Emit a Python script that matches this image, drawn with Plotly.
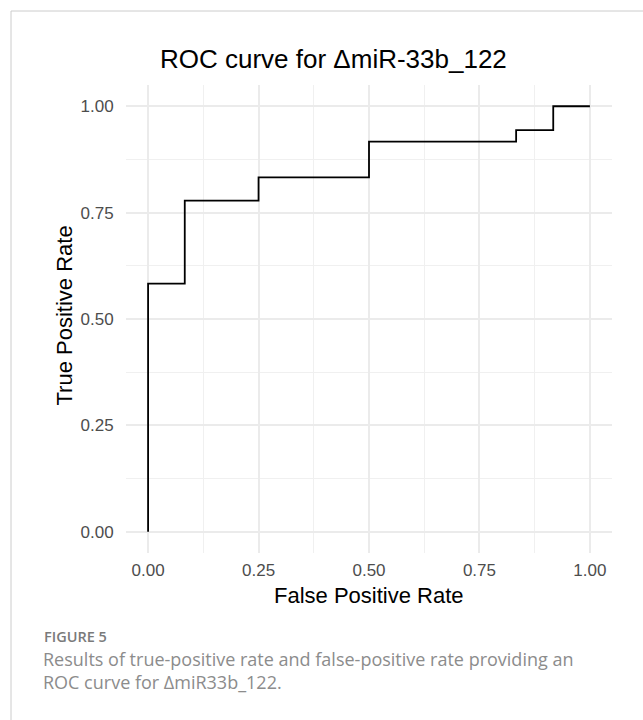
import plotly.graph_objects as go

# ROC step curve data
fpr = [0.0, 0.0, 0.083, 0.25, 0.5, 0.833, 0.917, 1.0]
tpr = [0.0, 0.583, 0.778, 0.833, 0.917, 0.944, 1.0, 1.0]

tick_vals = [0.0, 0.25, 0.5, 0.75, 1.0]
tick_text = ["0.00", "0.25", "0.50", "0.75", "1.00"]

title_text = "ROC curve for \u0394miR-33b_122"
x_title = "False Positive Rate"
y_title = "True Positive Rate"
fig_label = "FIGURE 5"
caption_lines = [
    "Results of true-positive rate and false-positive rate providing an",
    "ROC curve for \u0394miR33b_122.",
]

W, H = 643, 720
L, R, T, B = 126, 612, 85, 553  # panel pixel box


def px(x):
    return (x - L) / (R - L)


def py(y):
    return (B - y) / (B - T)


fig = go.Figure()
fig.add_trace(go.Scatter(
    x=fpr, y=tpr, mode="lines", line=dict(color="black", width=1.8, shape="hv"),
    hoverinfo="skip", showlegend=False,
))

axis_common = dict(
    range=[-0.05, 1.05],
    tickvals=tick_vals,
    ticktext=tick_text,
    showgrid=True,
    gridcolor="#ebebeb",
    gridwidth=1.6,
    zeroline=False,
    showline=False,
    ticks="outside",
    tickcolor="rgba(0,0,0,0)",
    tickfont=dict(family="Liberation Sans, Arial, sans-serif", size=17, color="#4d4d4d"),
    minor=dict(showgrid=True, gridcolor="#f0f0f0", gridwidth=1.0, dtick=0.25, tick0=0.125),
    fixedrange=True,
)

fig.update_layout(
    width=W, height=H,
    margin=dict(l=L, r=W - R, t=T, b=H - B, pad=0),
    paper_bgcolor="white",
    plot_bgcolor="white",
    xaxis=dict(axis_common, ticklen=2),
    yaxis=dict(axis_common, ticklen=8),
    showlegend=False,
)

fig.add_shape(type="rect", xref="paper", yref="paper",
              x0=px(11), x1=px(700), y0=py(800), y1=py(11),
              line=dict(color="#cccccc", width=1), fillcolor="rgba(0,0,0,0)", layer="below")

ann = []
ann.append(dict(text=title_text, x=px(333), y=py(59), xref="paper", yref="paper",
                xanchor="center", yanchor="middle", showarrow=False,
                font=dict(family="Liberation Sans, Arial, sans-serif", size=26, color="black")))
ann.append(dict(text=x_title, x=px(369), y=py(595), xref="paper", yref="paper",
                xanchor="center", yanchor="middle", showarrow=False,
                font=dict(family="Liberation Sans, Arial, sans-serif", size=22, color="black")))
ann.append(dict(text=y_title, x=px(63.5), y=py(316), xref="paper", yref="paper",
                xanchor="center", yanchor="middle", showarrow=False, textangle=-90,
                font=dict(family="Liberation Sans, Arial, sans-serif", size=22, color="black")))
ann.append(dict(text=fig_label, x=px(42), y=py(636), xref="paper", yref="paper",
                xanchor="left", yanchor="middle", showarrow=False,
                font=dict(family="Open Sans, sans-serif", size=14.5, color="#7a7a7a", weight=600)))
for i, line in enumerate(caption_lines):
    ann.append(dict(text=line, x=px(41), y=py(659 + 23 * i), xref="paper", yref="paper",
                    xanchor="left", yanchor="middle", showarrow=False,
                    font=dict(family="Open Sans, sans-serif", size=18, color="#8c8c8c")))
fig.update_layout(annotations=ann)

fig.write_html("out.html")
